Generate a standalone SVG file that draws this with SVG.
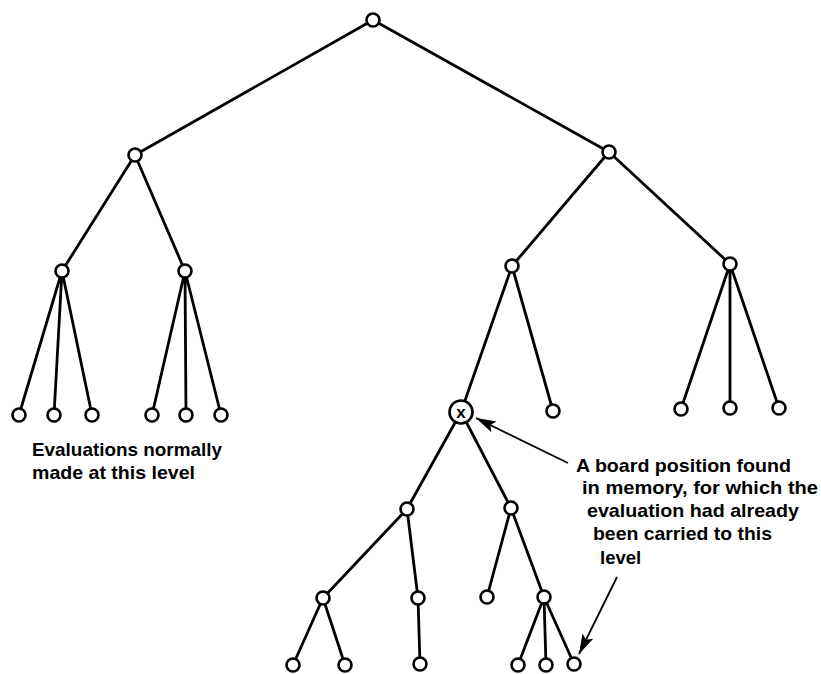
<svg xmlns="http://www.w3.org/2000/svg" width="821" height="674" viewBox="0 0 821 674">
<defs>
<style>
.e{stroke:#000;stroke-width:2.8;fill:none;stroke-linecap:round}
.n{fill:#fff;stroke:#000;stroke-width:2.6}
.t{font-family:"Liberation Sans",Arial,sans-serif;font-weight:bold;font-size:18.5px;fill:#000}
.a{stroke:#000;stroke-width:1.8;fill:none}
</style>
<marker id="ah" viewBox="0 0 20 12" refX="20" refY="6" markerWidth="20" markerHeight="12" markerUnits="userSpaceOnUse" orient="auto">
<path d="M0,0 L20,6 L0,12 L4,6 Z" fill="#000"/>
</marker>
</defs>
<rect width="821" height="674" fill="#fff"/>
<g id="connectors">
<path class="e" d="M373,20 L135,155 M373,20 L609,152"/>
<path class="e" d="M135,155 L62,271 M135,155 L185,271"/>
<path class="e" d="M62,271 L19,415 M62,271 L54,415 M62,271 L92,415"/>
<path class="e" d="M185,271 L152,415 M185,271 L186,415 M185,271 L221,415"/>
<path class="e" d="M609,152 L512,266 M609,152 L730,264"/>
<path class="e" d="M512,266 L461,412 M512,266 L553,411"/>
<path class="e" d="M730,264 L681,409 M730,264 L730,408 M730,264 L779,408"/>
<path class="e" d="M461,412 L407,509 M461,412 L511,508"/>
<path class="e" d="M407,509 L323,598 M407,509 L418,598"/>
<path class="e" d="M323,598 L293,665 M323,598 L345,665"/>
<path class="e" d="M418,598 L420,664"/>
<path class="e" d="M511,508 L487,597 M511,508 L544,597"/>
<path class="e" d="M544,597 L518,665 M544,597 L546,665 M544,597 L574,664"/>
<path class="a" d="M568,463 L476,418" marker-end="url(#ah)"/>
<path class="a" d="M617,577 L579,654" marker-end="url(#ah)"/>
</g>
<g id="root"><circle class="n" cx="373" cy="20" r="6.5"/></g>
<g id="n1a"><circle class="n" cx="135" cy="155" r="6.5"/></g>
<g id="n1b"><circle class="n" cx="609" cy="152" r="6.5"/></g>
<g id="n2a"><circle class="n" cx="62" cy="271" r="6.5"/></g>
<g id="n2b"><circle class="n" cx="185" cy="271" r="6.5"/></g>
<g id="n2c"><circle class="n" cx="512" cy="266" r="6.5"/></g>
<g id="n2d"><circle class="n" cx="730" cy="264" r="6.5"/></g>
<g id="l1"><circle class="n" cx="19" cy="415" r="6.5"/></g>
<g id="l2"><circle class="n" cx="54" cy="415" r="6.5"/></g>
<g id="l3"><circle class="n" cx="92" cy="415" r="6.5"/></g>
<g id="l4"><circle class="n" cx="152" cy="415" r="6.5"/></g>
<g id="l5"><circle class="n" cx="186" cy="415" r="6.5"/></g>
<g id="l6"><circle class="n" cx="221" cy="415" r="6.5"/></g>
<g id="x"><circle class="n" cx="461" cy="412" r="11.5"/><text x="461" y="417.5" text-anchor="middle" style="font-family:'Liberation Sans',Arial,sans-serif;font-weight:bold;font-size:17px">x</text></g>
<g id="l7"><circle class="n" cx="553" cy="411" r="6.5"/></g>
<g id="l8"><circle class="n" cx="681" cy="409" r="6.5"/></g>
<g id="l9"><circle class="n" cx="730" cy="408" r="6.5"/></g>
<g id="l10"><circle class="n" cx="779" cy="408" r="6.5"/></g>
<g id="n4a"><circle class="n" cx="407" cy="509" r="6.5"/></g>
<g id="n4b"><circle class="n" cx="511" cy="508" r="6.5"/></g>
<g id="n5a"><circle class="n" cx="323" cy="598" r="6.5"/></g>
<g id="n5b"><circle class="n" cx="418" cy="598" r="6.5"/></g>
<g id="n5c"><circle class="n" cx="487" cy="597" r="6.5"/></g>
<g id="n5d"><circle class="n" cx="544" cy="597" r="6.5"/></g>
<g id="l11"><circle class="n" cx="293" cy="665" r="6.5"/></g>
<g id="l12"><circle class="n" cx="345" cy="665" r="6.5"/></g>
<g id="l13"><circle class="n" cx="420" cy="664" r="6.5"/></g>
<g id="l14"><circle class="n" cx="518" cy="665" r="6.5"/></g>
<g id="l15"><circle class="n" cx="546" cy="665" r="6.5"/></g>
<g id="l16"><circle class="n" cx="574" cy="664" r="6.5"/></g>
<g id="label-left">
<text class="t" x="32" y="456" textLength="190" lengthAdjust="spacingAndGlyphs">Evaluations normally</text>
<text class="t" x="32" y="479" textLength="163" lengthAdjust="spacingAndGlyphs">made at this level</text>
</g>
<g id="label-right">
<text class="t" x="576" y="472" textLength="215" lengthAdjust="spacingAndGlyphs">A board position found</text>
<text class="t" x="582" y="494" textLength="236" lengthAdjust="spacingAndGlyphs">in memory, for which the</text>
<text class="t" x="587" y="517" textLength="212" lengthAdjust="spacingAndGlyphs">evaluation had already</text>
<text class="t" x="593" y="540" textLength="179" lengthAdjust="spacingAndGlyphs">been carried to this</text>
<text class="t" x="600" y="564">level</text>
</g>
</svg>
